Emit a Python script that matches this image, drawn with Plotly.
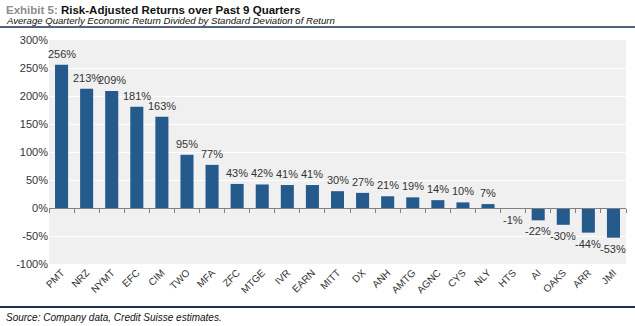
import plotly.graph_objects as go

tickers = ["PMT", "NRZ", "NYMT", "EFC", "CIM", "TWO", "MFA", "ZFC", "MTGE", "IVR", "EARN", "MITT",
           "DX", "ANH", "AMTG", "AGNC", "CYS", "NLY", "HTS", "AI", "OAKS", "ARR", "JMI"]
returns_pct = [256, 213, 209, 181, 163, 95, 77, 43, 42, 41, 41, 30,
               27, 21, 19, 14, 10, 7, -1, -22, -30, -44, -53]
y_ticks = [-100, -50, 0, 50, 100, 150, 200, 250, 300]

FONT = "Arial, Liberation Sans, sans-serif"
BAR = "#245a8c"

W, H = 635, 326
ML, MR, MT, MB = 49, 9, 40, 62
PW, PH = W - ML - MR, H - MT - MB


def px(x):
    return (x - ML) / PW


def py(y):
    return 1 - (y - MT) / PH


fig = go.Figure()
fig.add_trace(go.Bar(
    x=tickers, y=returns_pct,
    marker=dict(color=BAR, line=dict(width=0)),
    hoverinfo="skip",
))
# invisible trace to drive the zero-line axis with boundary ticks
fig.add_trace(go.Scatter(
    x=tickers, y=returns_pct, xaxis="x2", yaxis="y",
    mode="markers", marker=dict(opacity=0), hoverinfo="skip", showlegend=False,
))

value_labels = [
    dict(x=t, y=v, xref="x", yref="y", text=f"{v}%", showarrow=False,
         yanchor="bottom" if v >= 0 else "top", yshift=3 if v >= 0 else -3,
         font=dict(family=FONT, size=11, color="#333333"))
    for t, v in zip(tickers, returns_pct)
]

fig.update_layout(
    width=W, height=H,
    margin=dict(l=ML, r=MR, t=MT, b=MB),
    paper_bgcolor="white",
    plot_bgcolor="#f0f0f0",
    showlegend=False,
    bargap=0.48,
    font=dict(family=FONT, size=11, color="#333333"),
    xaxis=dict(
        type="category", showgrid=False, zeroline=False, showline=False,
        tickangle=-45, ticks="", tickfont=dict(family=FONT, size=10, color="#333333"),
        range=[-0.5, len(tickers) - 0.5],
    ),
    xaxis2=dict(
        type="category", overlaying="x", matches="x", anchor="free", position=0.25,
        showline=True, linecolor="#808080", linewidth=1,
        ticks="outside", tickson="boundaries", ticklen=4, tickcolor="#808080",
        showticklabels=False, showgrid=False, zeroline=False,
    ),
    yaxis=dict(
        range=[-100, 300], tickvals=y_ticks,
        ticktext=[f"{v}%" for v in y_ticks],
        showgrid=True, gridcolor="white", gridwidth=1,
        zeroline=False, showline=False, ticks="",
        tickfont=dict(family=FONT, size=11, color="#333333"),
        domain=[0, 1],
    ),
    annotations=value_labels + [
        dict(xref="paper", yref="paper", x=px(4), y=py(9.5), xanchor="left", yanchor="middle",
             text="<b><span style='color:#8c8c8c'>Exhibit 5:</span> Risk-Adjusted Returns over Past 9 Quarters</b>",
             showarrow=False, font=dict(family=FONT, size=11.5, color="#111111")),
        dict(xref="paper", yref="paper", x=px(4), y=py(20.5), xanchor="left", yanchor="middle",
             text="<i>Average Quarterly Economic Return Divided by Standard Deviation of Return</i>",
             showarrow=False, font=dict(family=FONT, size=9.6, color="#111111")),
        dict(xref="paper", yref="paper", x=px(4), y=py(317.5), xanchor="left", yanchor="middle",
             text="<i>Source: Company data, Credit Suisse estimates.</i>",
             showarrow=False, font=dict(family=FONT, size=10, color="#111111")),
    ],
    shapes=[
        dict(type="line", xref="paper", yref="paper", x0=px(0), x1=px(W),
             y0=py(27), y1=py(27), line=dict(color="#1b2f52", width=1.5)),
        dict(type="line", xref="paper", yref="paper", x0=px(0), x1=px(W),
             y0=py(307), y1=py(307), line=dict(color="#1b2f52", width=2)),
    ],
)

fig.write_html("out.html")
